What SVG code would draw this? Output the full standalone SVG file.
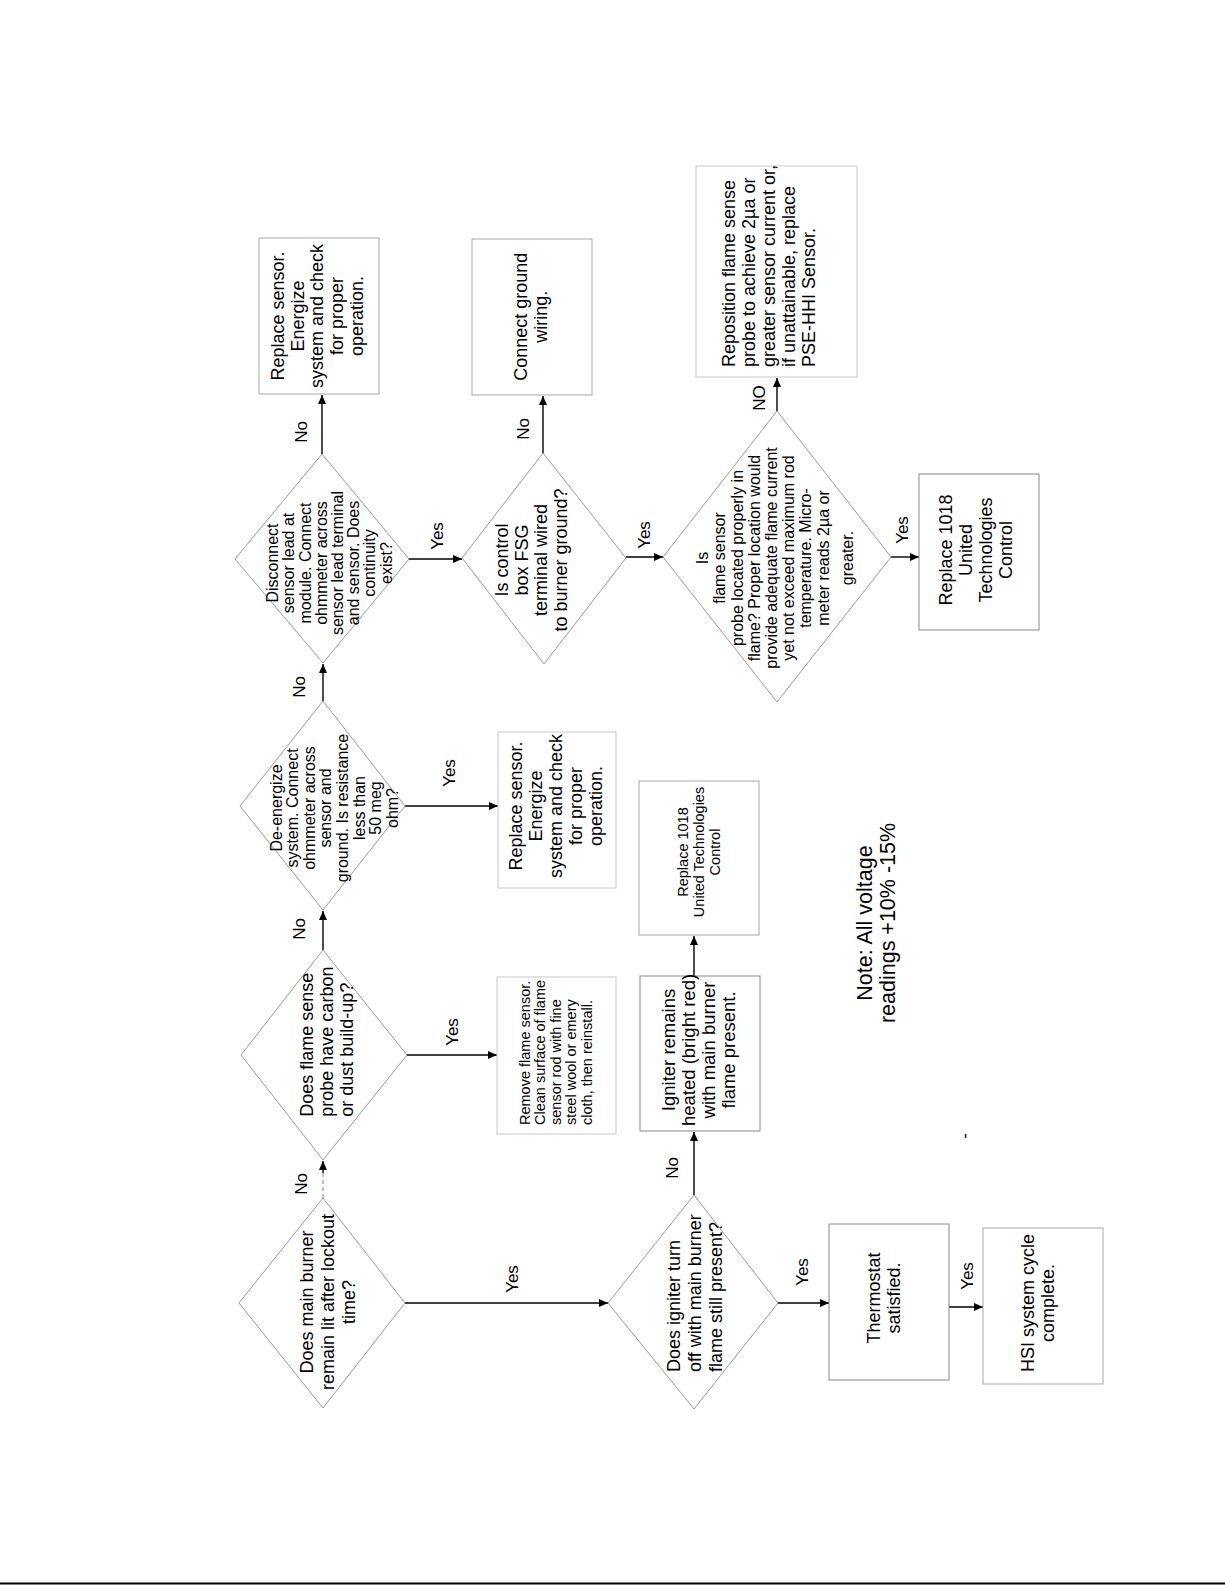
<svg xmlns="http://www.w3.org/2000/svg" width="1225" height="1585" viewBox="0 0 1225 1585">
<defs>
<marker id="ah" markerWidth="9" markerHeight="8" refX="9" refY="4" orient="auto" markerUnits="userSpaceOnUse">
<path d="M0,0 L9,4 L0,8 Z" fill="#000"/>
</marker>
<style>
text{font-family:"Liberation Sans",Arial,sans-serif;fill:#000}
.m{text-anchor:middle}
.s{text-anchor:start}
.f18{font-size:18px}
.f16{font-size:16px}
.f14{font-size:14.5px}
.lbl{font-size:17px;text-anchor:middle}
.box{fill:#fff;stroke:#a8a8a8;stroke-width:1}
.dk{stroke:#888}
.lt{stroke:#c8c8c8}
.dia{fill:#fff;stroke:#9a9a9a;stroke-width:1}
.con{stroke:#000;stroke-width:1.4;fill:none;marker-end:url(#ah)}
</style>
</defs>
<rect x="0" y="0" width="1225" height="1585" fill="#fff"/>

<g id="connectors">
<line class="con" x1="322" y1="454" x2="322" y2="395"/>
<line class="con" x1="409" y1="559" x2="462" y2="559"/>
<line class="con" x1="543" y1="453" x2="543" y2="396"/>
<line class="con" x1="626" y1="557" x2="663" y2="557"/>
<line class="con" x1="777" y1="411" x2="777" y2="378"/>
<line class="con" x1="891" y1="557" x2="919" y2="557"/>
<line class="con" x1="323" y1="701" x2="323" y2="664"/>
<line class="con" x1="405" y1="806" x2="498" y2="806"/>
<line class="con" x1="323" y1="950" x2="323" y2="911"/>
<line class="con" x1="407" y1="1055" x2="497" y2="1055"/>
<line x1="323" y1="1198" x2="323" y2="1172" stroke="#999" stroke-width="1.2" stroke-dasharray="4,3"/>
<line class="con" x1="323" y1="1173" x2="323" y2="1161"/>
<line class="con" x1="405" y1="1303" x2="608" y2="1303"/>
<line class="con" x1="694" y1="1195" x2="694" y2="1132"/>
<line class="con" x1="694" y1="976" x2="694" y2="936"/>
<line class="con" x1="778" y1="1303" x2="829" y2="1303"/>
<line class="con" x1="949" y1="1307" x2="983" y2="1307"/>
</g>

<g id="labels">
<g transform="translate(306.5,432) rotate(-90)"><text class="lbl">No</text></g>
<g transform="translate(443,536) rotate(-90)"><text class="lbl">Yes</text></g>
<g transform="translate(529,429) rotate(-90)"><text class="lbl">No</text></g>
<g transform="translate(650,535) rotate(-90)"><text class="lbl">Yes</text></g>
<g transform="translate(765,398) rotate(-90)"><text class="lbl">NO</text></g>
<g transform="translate(908,530) rotate(-90)"><text class="lbl">Yes</text></g>
<g transform="translate(305,687) rotate(-90)"><text class="lbl">No</text></g>
<g transform="translate(455,773) rotate(-90)"><text class="lbl">Yes</text></g>
<g transform="translate(305,929) rotate(-90)"><text class="lbl">No</text></g>
<g transform="translate(306.5,1184) rotate(-90)"><text class="lbl">No</text></g>
<g transform="translate(458,1032) rotate(-90)"><text class="lbl">Yes</text></g>
<g transform="translate(518,1279) rotate(-90)"><text class="lbl">Yes</text></g>
<g transform="translate(678,1168) rotate(-90)"><text class="lbl">No</text></g>
<g transform="translate(808,1272) rotate(-90)"><text class="lbl">Yes</text></g>
<g transform="translate(972.5,1276) rotate(-90)"><text class="lbl">Yes</text></g>
</g>

<g id="d_disconnect">
<polygon class="dia" points="322,454 409,559 323,663 235,559"/>
<g transform="translate(278.3,563) rotate(-90)"><text class="m f16">
<tspan x="0" y="0">Disconnect</tspan><tspan x="0" y="16.2">sensor lead at</tspan><tspan x="0" y="32.4">module.  Connect</tspan><tspan x="0" y="48.6">ohmmeter across</tspan><tspan x="0" y="64.8">sensor lead terminal</tspan><tspan x="0" y="81">and sensor. Does</tspan><tspan x="0" y="97.2">continuity</tspan><tspan x="0" y="113.4">exist?</tspan></text></g>
</g>

<g id="d_control">
<polygon class="dia" points="543,453 626,558 544,664 462,558"/>
<g transform="translate(508.3,560) rotate(-90)"><text class="m f18">
<tspan x="0" y="0">Is control</tspan><tspan x="0" y="19.6">box FSG</tspan><tspan x="0" y="39.2">terminal wired</tspan><tspan x="0" y="58.8">to burner ground?</tspan></text></g>
</g>

<g id="d_flame">
<polygon class="dia" points="777,411 891,557 777,702 663,557"/>
<g transform="translate(708.3,558) rotate(-90)"><text class="m f16">
<tspan x="0" y="0">Is</tspan><tspan x="0" y="17.2">flame sensor</tspan><tspan x="0" y="34.4">probe located properly in</tspan><tspan x="0" y="51.6">flame?  Proper location would</tspan><tspan x="0" y="68.8">provide adequate flame current</tspan><tspan x="0" y="86">yet not exceed maximum rod</tspan><tspan x="0" y="103.2">temperature.  Micro-</tspan><tspan x="0" y="120.4">meter reads 2µa or</tspan><tspan x="0" y="145">greater.</tspan></text></g>
</g>

<g id="d_deenergize">
<polygon class="dia" points="323,701 405,806 323,910 240,806"/>
<g transform="translate(281.7,808) rotate(-90)"><text class="m f16">
<tspan x="0" y="0">De-energize</tspan><tspan x="0" y="16.6">system. Connect</tspan><tspan x="0" y="33.2">ohmmeter across</tspan><tspan x="0" y="49.8">sensor and</tspan><tspan x="0" y="66.4">ground.  Is resistance</tspan><tspan x="0" y="83">less than</tspan><tspan x="0" y="99.6">50 meg</tspan><tspan x="0" y="116.2">ohm?</tspan></text></g>
</g>

<g id="d_carbon">
<polygon class="dia" points="323,950 407,1055 323,1160 241,1055"/>
<g transform="translate(313.3,1116.7) rotate(-90)"><text class="s f18">
<tspan x="0" y="0">Does flame sense</tspan><tspan x="0" y="20">probe have carbon</tspan><tspan x="0" y="40">or dust build-up?</tspan></text></g>
</g>

<g id="d_burner">
<polygon class="dia" points="323,1198 405,1303 323,1408 239,1303"/>
<g transform="translate(313.3,1302) rotate(-90)"><text class="m f18">
<tspan x="0" y="0">Does main burner</tspan><tspan x="0" y="21">remain lit after lockout</tspan><tspan x="0" y="42">time?</tspan></text></g>
</g>

<g id="d_igniter">
<polygon class="dia" points="694,1195 778,1303 694,1409 608,1303"/>
<g transform="translate(680,1372) rotate(-90)"><text class="s f18">
<tspan x="0" y="0">Does igniter turn</tspan><tspan x="0" y="20.8">off with main burner</tspan><tspan x="0" y="41.6">flame still present?</tspan></text></g>
</g>

<g id="n_replace_sensor_1">
<rect class="box" x="259" y="238" width="120" height="156"/>
<g transform="translate(284,316) rotate(-90)"><text class="m f18">
<tspan x="0" y="0">Replace sensor.</tspan><tspan x="0" y="19.7">Energize</tspan><tspan x="0" y="39.4">system and check</tspan><tspan x="0" y="59.1">for proper</tspan><tspan x="0" y="78.8">operation.</tspan></text></g>
</g>

<g id="n_ground">
<rect class="box" x="472" y="239" width="120" height="156"/>
<g transform="translate(526.7,316.7) rotate(-90)"><text class="m f18">
<tspan x="0" y="0">Connect ground</tspan><tspan x="0" y="20">wiring.</tspan></text></g>
</g>

<g id="n_reposition">
<rect class="box lt" x="696" y="166" width="161" height="211"/>
<g transform="translate(735,367) rotate(-90)"><text class="s f18">
<tspan x="0" y="0">Reposition flame sense</tspan><tspan x="0" y="20">probe to achieve 2µa or</tspan><tspan x="0" y="40">greater sensor current or,</tspan><tspan x="0" y="60">if unattainable, replace</tspan><tspan x="0" y="80">PSE-HHI Sensor.</tspan></text></g>
</g>

<g id="n_replace_control_1">
<rect class="box dk" x="919" y="474" width="120" height="156"/>
<g transform="translate(951.7,550) rotate(-90)"><text class="m f18">
<tspan x="0" y="0">Replace 1018</tspan><tspan x="0" y="20">United</tspan><tspan x="0" y="40">Technologies</tspan><tspan x="0" y="60">Control</tspan></text></g>
</g>

<g id="n_replace_sensor_2">
<rect class="box lt" x="498" y="732" width="118" height="156"/>
<g transform="translate(521.7,806) rotate(-90)"><text class="m f18">
<tspan x="0" y="0">Replace sensor.</tspan><tspan x="0" y="20">Energize</tspan><tspan x="0" y="40">system and check</tspan><tspan x="0" y="60">for proper</tspan><tspan x="0" y="80">operation.</tspan></text></g>
</g>

<g id="n_replace_control_2">
<rect class="box" x="639" y="781" width="120" height="154"/>
<g transform="translate(688.3,852) rotate(-90)"><text class="m f14">
<tspan x="0" y="0">Replace 1018</tspan><tspan x="0" y="16">United Technologies</tspan><tspan x="0" y="32">Control</tspan></text></g>
</g>

<g id="n_remove">
<rect class="box lt" x="497" y="977" width="119" height="157"/>
<g transform="translate(530,1125) rotate(-90)"><text class="s f14">
<tspan x="0" y="0">Remove flame sensor.</tspan><tspan x="0" y="15.4">Clean surface of  flame</tspan><tspan x="0" y="30.8">sensor rod with fine</tspan><tspan x="0" y="46.2">steel wool or emery</tspan><tspan x="0" y="61.6">cloth, then reinstall.</tspan></text></g>
</g>

<g id="n_igniter_hot">
<rect class="box dk" x="640" y="976" width="120" height="155"/>
<g transform="translate(675,1050) rotate(-90)"><text class="m" style="font-size:18.5px">
<tspan x="0" y="0">Igniter remains</tspan><tspan x="0" y="20">heated (bright red)</tspan><tspan x="0" y="40">with main burner</tspan><tspan x="0" y="60">flame present.</tspan></text></g>
</g>

<g id="n_thermostat">
<rect class="box dk" x="829" y="1224" width="120" height="156"/>
<g transform="translate(880,1298) rotate(-90)"><text class="m f18">
<tspan x="0" y="0">Thermostat</tspan><tspan x="0" y="20">satisfied.</tspan></text></g>
</g>

<g id="n_complete">
<rect class="box" x="983" y="1228" width="120" height="156"/>
<g transform="translate(1034,1303) rotate(-90)"><text class="m f18">
<tspan x="0" y="0">HSI system cycle</tspan><tspan x="0" y="20">complete.</tspan></text></g>
</g>

<g id="note">
<g transform="translate(871.5,923) rotate(-90)"><text class="m" style="font-size:21.5px">
<tspan x="0" y="0">Note: All voltage</tspan><tspan x="0" y="23">readings +10% -15%</tspan></text></g>
<g transform="translate(970,1136) rotate(-90)"><text class="m" style="font-size:17px">-</text></g>
</g>

<line x1="0" y1="1583.5" x2="1225" y2="1583.5" stroke="#000" stroke-width="2"/>
</svg>
